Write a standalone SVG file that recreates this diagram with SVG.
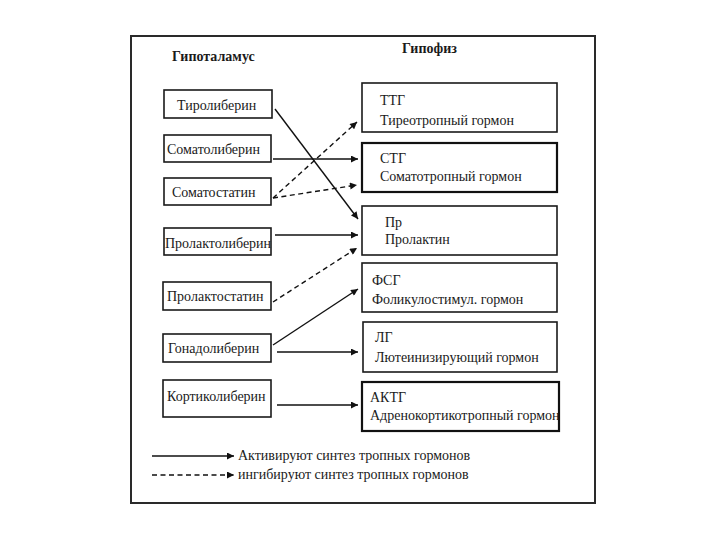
<svg xmlns="http://www.w3.org/2000/svg" width="720" height="540" viewBox="0 0 720 540">
<style>
.t{font-family:"Liberation Serif","Times New Roman",serif;font-size:14px;fill:#1a1a1a}
.h{font-family:"Liberation Serif","Times New Roman",serif;font-size:14px;font-weight:bold;fill:#1a1a1a}
.bx{fill:#fff;stroke:#1a1a1a;stroke-width:1.6}
.bx2{fill:#fff;stroke:#111;stroke-width:2.2}
.s{stroke:#111;stroke-width:1.4;fill:none;marker-end:url(#ah)}
.d{stroke:#111;stroke-width:1.4;fill:none;stroke-dasharray:5,3.5;marker-end:url(#ah)}
</style>
<defs>
<marker id="ah" viewBox="0 0 10 10" refX="10" refY="5" markerWidth="8" markerHeight="7" markerUnits="userSpaceOnUse" orient="auto">
<path d="M0,0 L10,5 L0,10 z" fill="#111"/>
</marker>
</defs>
<rect width="720" height="540" fill="#fff"/>
<rect x="131" y="36" width="464" height="467" fill="#fff" stroke="#2a2a2a" stroke-width="2"/>
<text class="h" x="172" y="61">Гипоталамус</text>
<text class="h" x="402" y="53">Гипофиз</text>

<g id="tiroliberin"><rect class="bx" x="164" y="90" width="108" height="28"/><text class="t" x="177" y="110">Тиролиберин</text></g>
<g id="somatoliberin"><rect class="bx" x="164" y="135" width="107" height="27"/><text class="t" x="167" y="154">Соматолиберин</text></g>
<g id="somatostatin"><rect class="bx" x="164" y="178" width="107" height="27"/><text class="t" x="172" y="197">Соматостатин</text></g>
<g id="prolaktoliberin"><rect class="bx" x="164" y="228" width="107" height="27"/><text class="t" x="165" y="248">Пролактолиберин</text></g>
<g id="prolaktostatin"><rect class="bx" x="163" y="282" width="108" height="28"/><text class="t" x="167" y="301">Пролактостатин</text></g>
<g id="gonadoliberin"><rect class="bx" x="163" y="334" width="108" height="28"/><text class="t" x="168" y="353">Гонадолиберин</text></g>
<g id="kortikoliberin"><rect class="bx" x="163" y="380" width="108" height="37"/><text class="t" x="167" y="401">Кортиколиберин</text></g>

<g id="ttg"><rect class="bx" x="362" y="83" width="195" height="49"/><text class="t" x="380" y="105">ТТГ</text><text class="t" x="380" y="125">Тиреотропный гормон</text></g>
<g id="stg"><rect class="bx2" x="362" y="143" width="195" height="49"/><text class="t" x="380" y="163">СТГ</text><text class="t" x="380" y="181">Соматотропный гормон</text></g>
<g id="pr"><rect class="bx" x="362" y="206" width="195" height="49"/><text class="t" x="385" y="227">Пр</text><text class="t" x="385" y="244">Пролактин</text></g>
<g id="fsg"><rect class="bx" x="362" y="263" width="195" height="49"/><text class="t" x="372" y="285">ФСГ</text><text class="t" x="372" y="304">Фоликулостимул. гормон</text></g>
<g id="lg"><rect class="bx" x="363" y="322" width="194" height="50"/><text class="t" x="375" y="342">ЛГ</text><text class="t" x="375" y="362">Лютеинизирующий гормон</text></g>
<g id="aktg"><rect class="bx2" x="362" y="382" width="197" height="49"/><text class="t" x="370" y="402">АКТГ</text><text class="t" x="370" y="420">Адренокортикотропный гормон</text></g>

<g id="connectors">
<line class="s" x1="275" y1="109" x2="358" y2="219"/>
<line class="s" x1="273" y1="159" x2="358" y2="159"/>
<line class="d" x1="273" y1="198" x2="357" y2="122"/>
<line class="d" x1="273" y1="198" x2="357" y2="185"/>
<line class="s" x1="275" y1="235" x2="358" y2="235"/>
<line class="d" x1="273" y1="302" x2="357" y2="248"/>
<line class="s" x1="273" y1="345" x2="358" y2="289"/>
<line class="s" x1="277" y1="352" x2="358" y2="352"/>
<line class="s" x1="277" y1="405" x2="358" y2="405"/>
</g>

<g id="legend">
<line class="s" x1="152" y1="456" x2="234" y2="456"/>
<text class="t" x="238" y="460">Активируют синтез тропных гормонов</text>
<line class="d" x1="152" y1="475" x2="234" y2="475"/>
<text class="t" x="238" y="479">ингибируют синтез тропных гормонов</text>
</g>
</svg>
